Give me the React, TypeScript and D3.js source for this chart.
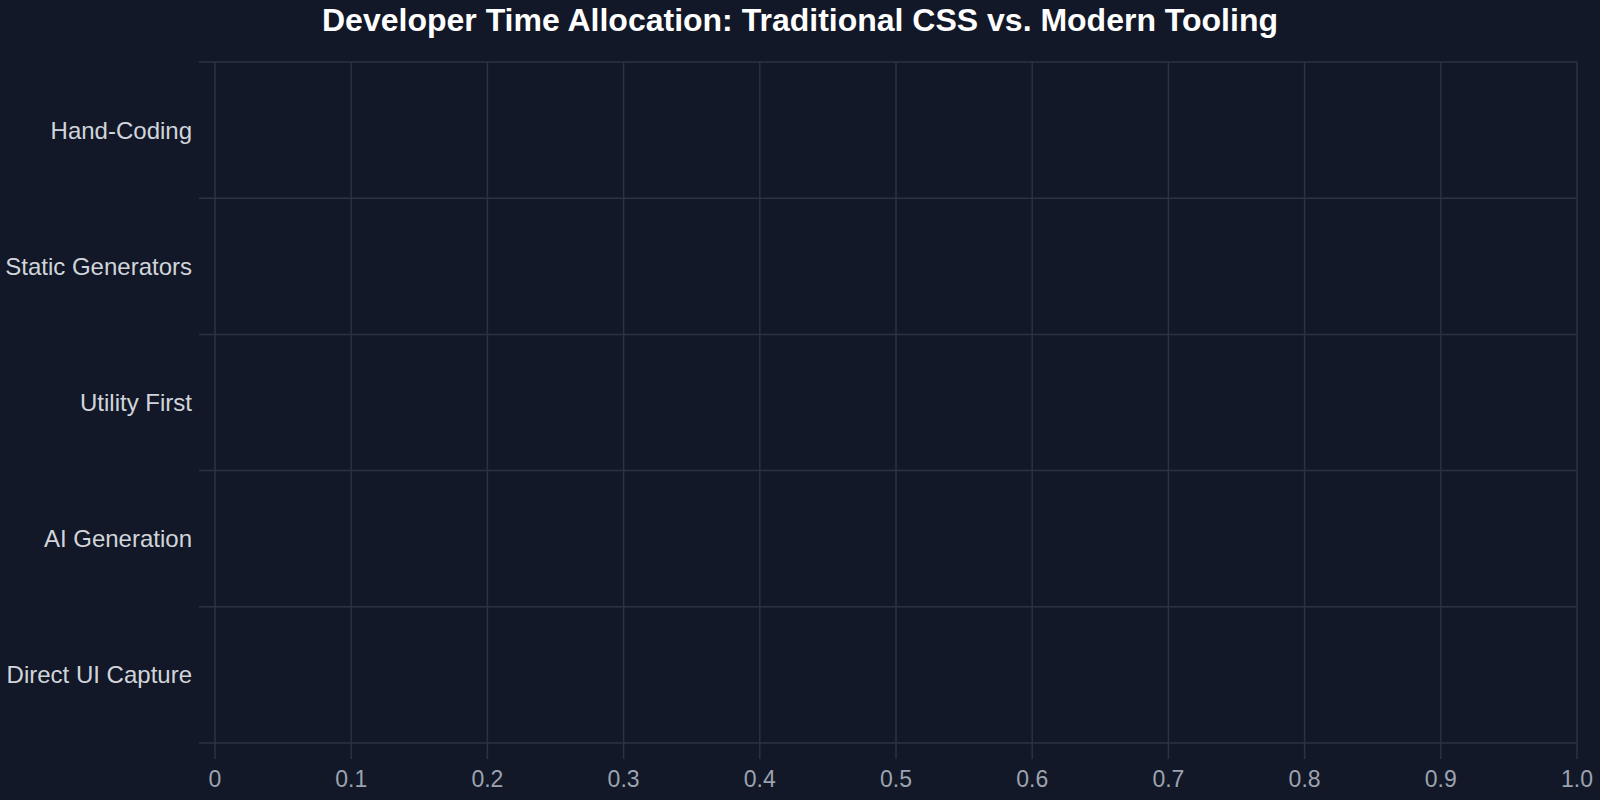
import React, { useEffect, useRef } from 'react';
import * as d3 from 'd3';

// categories top to bottom
const categories = ['Hand-Coding', 'Static Generators', 'Utility First', 'AI Generation', 'Direct UI Capture'];
// no bars are drawn in the reference, so both series read as zero
const traditionalCss = [0, 0, 0, 0, 0];
const modernTooling = [0, 0, 0, 0, 0];
const xTicks = [0, 0.1, 0.2, 0.3, 0.4, 0.5, 0.6, 0.7, 0.8, 0.9, 1.0];

const title = 'Developer Time Allocation: Traditional CSS vs. Modern Tooling';

const App: React.FC = () => {
    const ref = useRef<SVGSVGElement | null>(null);

    useEffect(() => {
        if (!ref.current) return;
        const width = 1600;
        const height = 800;
        const margin = { top: 62, right: 23, bottom: 57, left: 215 };
        const font = '"Liberation Sans", Arial, sans-serif';
        const grid = '#2b3242';

        const svg = d3.select(ref.current);
        svg.selectAll('*').remove();
        svg.attr('width', width).attr('height', height);

        svg.append('rect').attr('width', width).attr('height', height).attr('fill', '#121827');

        const x = d3.scaleLinear().domain([0, 1]).range([margin.left, width - margin.right]);
        const y = d3.scaleBand().domain(categories).range([margin.top, height - margin.bottom]);

        // vertical grid + ticks
        svg.append('g')
            .selectAll('line')
            .data(xTicks)
            .enter()
            .append('line')
            .attr('x1', d => x(d))
            .attr('x2', d => x(d))
            .attr('y1', margin.top)
            .attr('y2', height - margin.bottom + 16)
            .attr('stroke', grid)
            .attr('stroke-width', 1.5);

        // horizontal band boundaries + ticks
        const bounds = categories.map(c => y(c)!).concat([y.range()[1]]);
        svg.append('g')
            .selectAll('line')
            .data(bounds)
            .enter()
            .append('line')
            .attr('x1', margin.left - 16)
            .attr('x2', width - margin.right)
            .attr('y1', d => d)
            .attr('y2', d => d)
            .attr('stroke', grid)
            .attr('stroke-width', 1.5);

        // stacked bars (empty in the reference)
        const stackData = categories.map((c, i) => ({ c, traditional: traditionalCss[i], modern: modernTooling[i] }));
        const stack = d3.stack<any>().keys(['traditional', 'modern'])(stackData);
        const colors = ['#f97316', '#38bdf8'];
        stack.forEach((s, k) => {
            svg.append('g')
                .selectAll('rect')
                .data(s)
                .enter()
                .append('rect')
                .attr('x', d => x(d[0]))
                .attr('y', d => y(d.data.c)! + y.bandwidth() * 0.2)
                .attr('width', d => Math.max(0, x(d[1]) - x(d[0])))
                .attr('height', y.bandwidth() * 0.6)
                .attr('fill', colors[k]);
        });

        // y labels
        svg.append('g')
            .selectAll('text')
            .data(categories)
            .enter()
            .append('text')
            .attr('x', margin.left - 23)
            .attr('y', d => y(d)! + y.bandwidth() / 2)
            .attr('dy', '0.35em')
            .attr('text-anchor', 'end')
            .style('font-family', font)
            .style('font-size', '24px')
            .style('fill', '#d1d5db')
            .text(d => d);

        // x labels
        svg.append('g')
            .selectAll('text')
            .data(xTicks)
            .enter()
            .append('text')
            .attr('x', d => x(d))
            .attr('y', 787)
            .attr('text-anchor', 'middle')
            .style('font-family', font)
            .style('font-size', '23px')
            .style('fill', '#9ca3af')
            .text(d => (d === 0 ? '0' : d.toFixed(1)));

        svg.append('text')
            .attr('x', width / 2)
            .attr('y', 31)
            .attr('text-anchor', 'middle')
            .style('font-family', font)
            .style('font-size', '32px')
            .style('font-weight', 'bold')
            .style('fill', '#ffffff')
            .text(title);
    }, []);

    return (
        <>
            <style>{'body{margin:0;background:#121827}'}</style>
            <svg ref={ref} style={{ display: 'block' }} />
        </>
    );
};

export default App;
